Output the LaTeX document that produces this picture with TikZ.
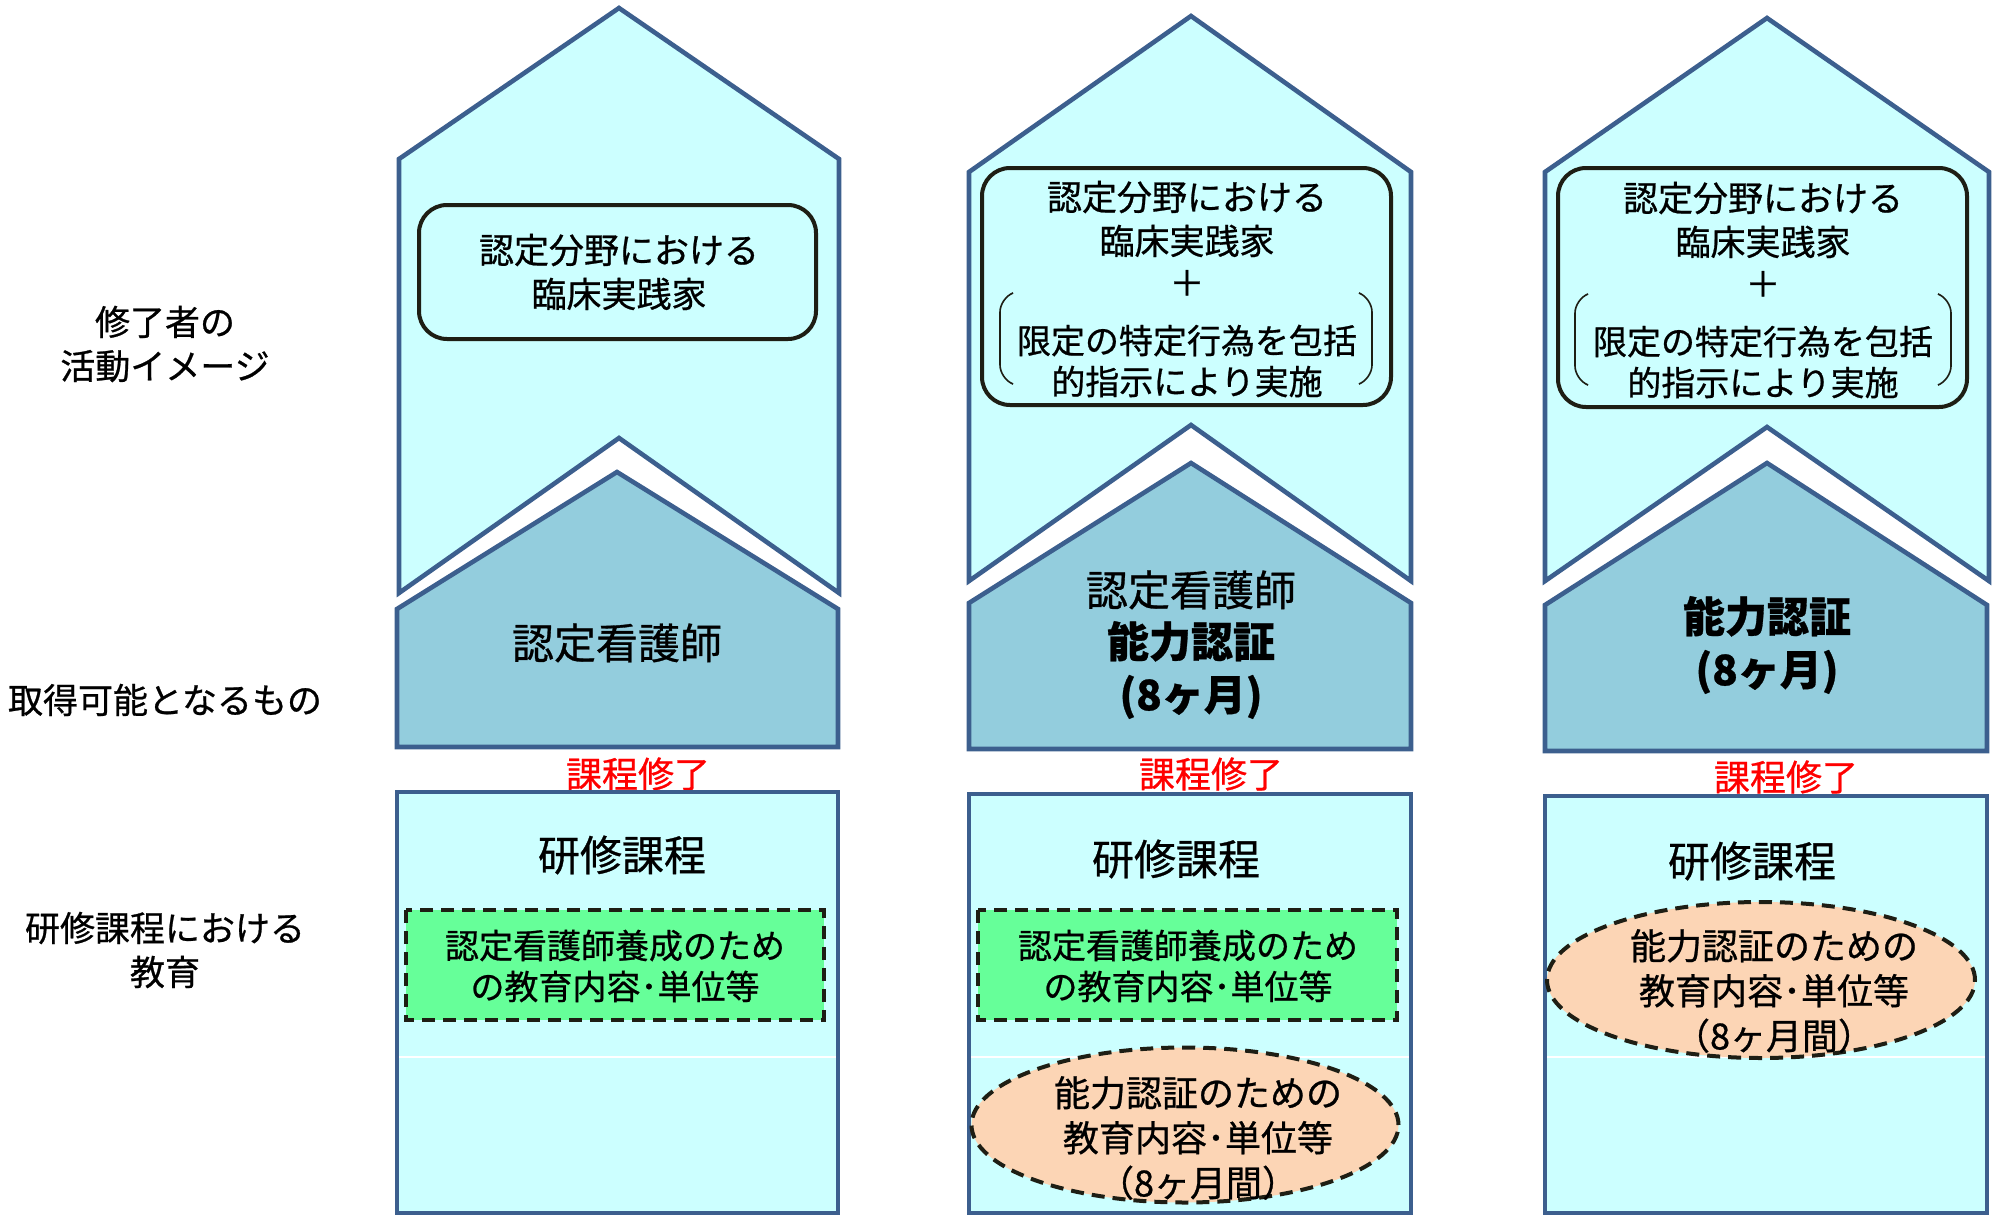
\documentclass[tikz,border=0pt]{standalone}
\usepackage{fontspec}
\setmainfont{Noto Sans CJK JP}[RawFeature={embolden=0.7}]
\usetikzlibrary{shapes.geometric}
\definecolor{frameblue}{HTML}{3C5F8E}
\definecolor{lightcyan}{HTML}{CCFFFF}
\definecolor{housefill}{HTML}{93CDDD}
\definecolor{greenfill}{HTML}{66FF99}
\definecolor{peachfill}{HTML}{FCD5B5}
\definecolor{inkline}{HTML}{1E1E14}
\begin{document}
\begin{tikzpicture}[x=0.5pt, y=-0.5pt,
    every node/.style={align=center, inner sep=0pt, font=\fontsize{17.5}{22}\selectfont},
    frame/.style={draw=frameblue, line width=2.3pt, line join=miter},
    roundbox/.style={draw=inkline, line width=2pt, rounded corners=14pt},
    dashbox/.style={draw=inkline, line width=2pt, dash pattern=on 6.5pt off 4pt},
    bigtext/.style={font=\fontsize{21}{26.5}\selectfont},
    boldtext/.style={font=\fontsize{21}{26.5}\selectfont\bfseries},
    redtext/.style={text=red, font=\fontsize{18}{22}\selectfont}]
    \useasboundingbox (0,0) rectangle (1998,1216);

    % 左の見出し
    \node (lbl1) at (165,344) {修了者の\\活動イメージ};
    \node (lbl2) at (165,700) {取得可能となるもの};
    \node (lbl3) at (165,950) {研修課程における\\教育};

    % 1列目 (認定看護師)
    \draw[frame, fill=lightcyan] (399,159) -- (619,8) -- (839,159) -- (839,593) -- (619,438) -- (399,593) -- cycle;
    \draw[roundbox, fill=lightcyan] (419,205) rectangle (816,339);
    \node (act1) at (619,272) {認定分野における\\臨床実践家};
    \draw[frame, fill=housefill] (397,609) -- (617,472) -- (838,609) -- (838,747) -- (397,747) -- cycle;
    \node[bigtext] (get1) at (617,643) {認定看護師};
    \node[redtext] (done1) at (638,774) {課程修了};
    \draw[frame, fill=lightcyan] (397,792) rectangle (838,1213);
    \draw[white, line width=0.6pt] (399,1057) -- (836,1057);
    \node[bigtext] (course1) at (622,855) {研修課程};
    \draw[dashbox, fill=greenfill] (406,910) rectangle (824,1020);
    \node[font=\fontsize{17}{20.5}\selectfont] (edu1) at (615,966) {認定看護師養成のため\\の教育内容･単位等};

    % 2列目 (認定看護師 + 能力認証)
    \draw[frame, fill=lightcyan] (969,172) -- (1191,16) -- (1411,172) -- (1411,581) -- (1191,425) -- (969,581) -- cycle;
    \draw[roundbox, fill=lightcyan] (982,168) rectangle (1391,405);
    \node (act2) at (1187,219) {認定分野における\\臨床実践家};
    \node (plus2) at (1187,283) {＋};
    \draw[inkline, line width=0.8pt, rounded corners=7pt] (1013,293) -- (1000,298) -- (1000,379) -- (1013,384);
    \draw[inkline, line width=0.8pt, rounded corners=7pt] (1359,293) -- (1372,298) -- (1372,379) -- (1359,384);
    \node[font=\fontsize{17}{20.5}\selectfont] (spec2) at (1187,361) {限定の特定行為を包括\\的指示により実施};
    \draw[frame, fill=housefill] (969,603) -- (1191,463) -- (1411,603) -- (1411,749) -- (969,749) -- cycle;
    \node[bigtext] (get2a) at (1191,590) {認定看護師};
    \node[boldtext] (get2b) at (1191,670) {能力認証\\(8ヶ月)};
    \node[redtext] (done2) at (1211,774) {課程修了};
    \draw[frame, fill=lightcyan] (969,794) rectangle (1411,1213);
    \draw[white, line width=0.6pt] (971,1057) -- (1409,1057);
    \node[bigtext] (course2) at (1176,859) {研修課程};
    \draw[dashbox, fill=greenfill] (978,910) rectangle (1397,1020);
    \node[font=\fontsize{17}{20.5}\selectfont] (edu2) at (1188,966) {認定看護師養成のため\\の教育内容･単位等};
    \node[ellipse, dashbox, fill=peachfill, minimum width=213.5pt, minimum height=77.5pt] (oval2) at (1185,1125) {};
    \node[font=\fontsize{18}{22.5}\selectfont] (cert2) at (1198,1138) {能力認証のための\\教育内容･単位等\\（8ヶ月間）};

    % 3列目 (能力認証)
    \draw[frame, fill=lightcyan] (1545,172) -- (1767,18) -- (1989,172) -- (1989,581) -- (1767,427) -- (1545,581) -- cycle;
    \draw[roundbox, fill=lightcyan] (1558,168) rectangle (1967,407);
    \node (act3) at (1763,220) {認定分野における\\臨床実践家};
    \node (plus3) at (1763,284) {＋};
    \draw[inkline, line width=0.8pt, rounded corners=7pt] (1588,294) -- (1575,299) -- (1575,380) -- (1588,385);
    \draw[inkline, line width=0.8pt, rounded corners=7pt] (1938,294) -- (1951,299) -- (1951,380) -- (1938,385);
    \node[font=\fontsize{17}{20.5}\selectfont] (spec3) at (1763,362) {限定の特定行為を包括\\的指示により実施};
    \draw[frame, fill=housefill] (1545,605) -- (1767,463) -- (1987,605) -- (1987,751) -- (1545,751) -- cycle;
    \node[boldtext] (get3) at (1767,645) {能力認証\\(8ヶ月)};
    \node[redtext] (done3) at (1786,777) {課程修了};
    \draw[frame, fill=lightcyan] (1545,796) rectangle (1987,1213);
    \draw[white, line width=0.6pt] (1547,1057) -- (1985,1057);
    \node[bigtext] (course3) at (1752,861) {研修課程};
    \node[ellipse, dashbox, fill=peachfill, minimum width=214pt, minimum height=78pt] (oval3) at (1761,980) {};
    \node[font=\fontsize{18}{22.5}\selectfont] (cert3) at (1774,991) {能力認証のための\\教育内容･単位等\\（8ヶ月間）};
\end{tikzpicture}
\end{document}
